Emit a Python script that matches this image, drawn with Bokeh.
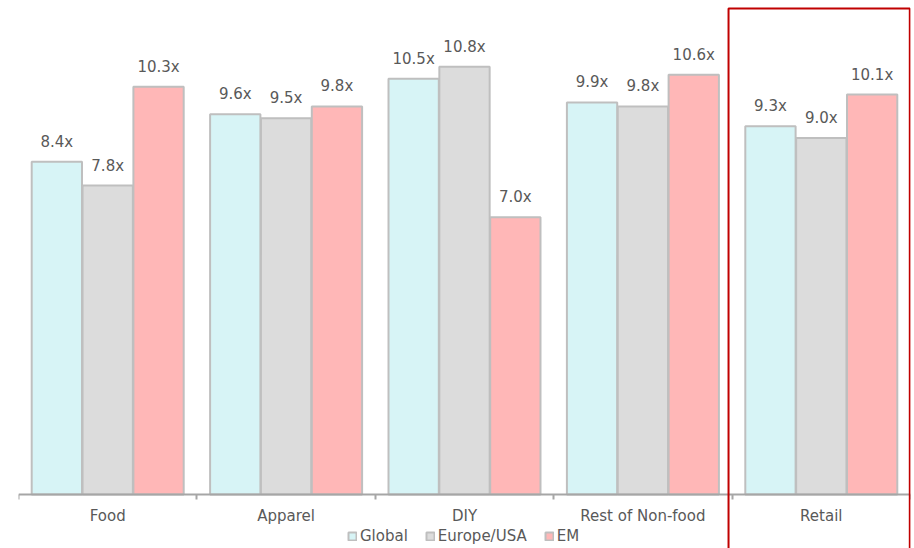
import numpy as np
from bokeh.plotting import figure
from bokeh.models import (ColumnDataSource, Range1d, FixedTicker, LabelSet,
                          BoxAnnotation, Legend, LegendItem)
from bokeh.core.properties import value
from bokeh.transform import dodge
from bokeh.embed import file_html
from bokeh.resources import INLINE

categories = ["Food", "Apparel", "DIY", "Rest of Non-food", "Retail"]
series_names = ["Global", "Europe/USA", "EM"]
global_vals = [8.4, 9.6, 10.5, 9.9, 9.3]
europe_vals = [7.8, 9.5, 10.8, 9.8, 9.0]
em_vals = [10.3, 9.8, 7.0, 10.6, 10.1]

colors = ["#D7F4F6", "#DCDCDC", "#FFB7B7"]
TEXT = "#595959"
FONT = "DejaVu Sans"

xc = np.arange(len(categories)) + 0.5
src = ColumnDataSource(dict(
    x=xc,
    g=global_vals, e=europe_vals, m=em_vals,
    gl=[f"{v:.1f}x" for v in global_vals],
    el=[f"{v:.1f}x" for v in europe_vals],
    ml=[f"{v:.1f}x" for v in em_vals],
))

p = figure(width=914, height=548, output_backend="svg", toolbar_location=None,
           x_range=Range1d(0, len(categories)), y_range=Range1d(-1.364, 12.475),
           min_border_left=18, min_border_right=4, min_border_top=0,
           min_border_bottom=0, outline_line_color=None)

p.yaxis.visible = False
p.grid.visible = False

offs = [-0.285, 0.0, 0.285]
keys = [("g", "gl"), ("e", "el"), ("m", "ml")]
renderers = []
for (k, lk), off, c in zip(keys, offs, colors):
    r = p.vbar(x=dodge("x", off), top=k, width=0.282, bottom=0, source=src,
               fill_color=c, line_color="#BFBFBF", line_width=2)
    renderers.append(r)
    lab = LabelSet(x=dodge("x", off), y=k, text=lk, source=src,
                   text_align="center", text_baseline="alphabetic", y_offset=15,
                   text_font=value(FONT), text_font_size="15px", text_color=TEXT)
    p.add_layout(lab)

ax = p.xaxis[0]
ax.fixed_location = 0
ax.ticker = FixedTicker(ticks=list(xc), minor_ticks=list(range(len(categories) + 1)))
ax.major_label_overrides = {float(x): c for x, c in zip(xc, categories)}
ax.major_tick_line_color = None
ax.major_tick_out = 0
ax.major_tick_in = 0
ax.minor_tick_out = 5
ax.minor_tick_in = 0
ax.minor_tick_line_color = "#A6A6A6"
ax.minor_tick_line_width = 2
ax.axis_line_color = "#A6A6A6"
ax.axis_line_width = 2
ax.major_label_standoff = 8
ax.major_label_text_font = FONT
ax.major_label_text_font_size = "15px"
ax.major_label_text_color = TEXT

box = BoxAnnotation(left=3.980, right=4.996, top=12.27, bottom=-1.5,
                    fill_alpha=0, line_color="#C00000", line_alpha=1.0,
                    line_width=2, level="overlay")
p.add_layout(box)

legend = Legend(items=[LegendItem(label=n, renderers=[r]) for n, r in zip(series_names, renderers)],
                orientation="horizontal", location=(329, 3),
                label_text_font=FONT, label_text_font_size="15px", label_text_color=TEXT,
                glyph_width=10, glyph_height=10, label_standoff=3, spacing=17,
                padding=0, margin=0, border_line_color=None, background_fill_alpha=0,
                label_height=16)
p.add_layout(legend)

open("out.html", "w").write(file_html(p, INLINE))
